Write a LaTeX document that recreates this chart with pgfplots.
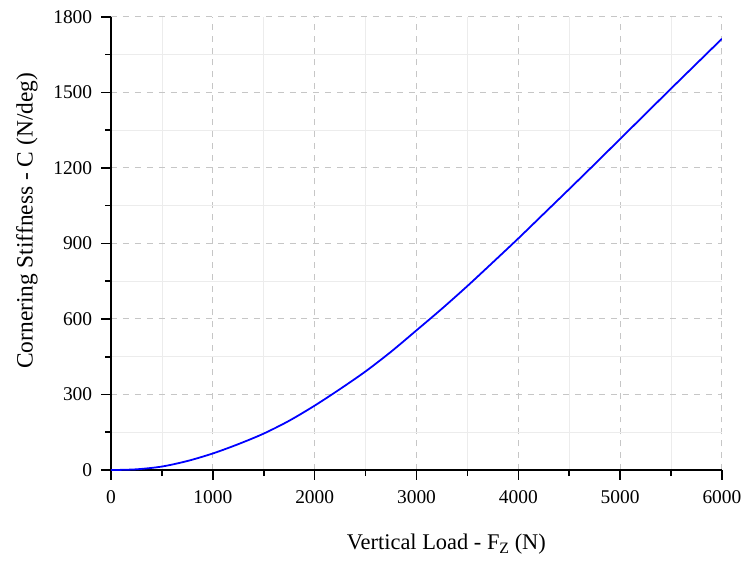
\documentclass[border=0pt]{standalone}
\usepackage{pgfplots}
\pgfplotsset{compat=1.18}
\usepackage{fontspec}
\setmainfont{Liberation Serif}
\begin{document}
\begin{tikzpicture}
\begin{axis}[
  scale only axis,
  width=308pt, height=228.5pt,
  xmin=0, xmax=6000, ymin=0, ymax=1800,
  axis x line*=bottom, axis y line*=left,
  axis line style={line width=0.9pt},
  xtick={0,1000,...,6000}, ytick={0,300,...,1800},
  minor x tick num=1, minor y tick num=1,
  tick align=outside,
  major tick length=5pt, minor tick length=3pt,
  tick style={line width=0.8pt, black},
  grid=both,
  major grid style={dashed, gray!45, line width=0.5pt},
  minor grid style={gray!15, line width=0.4pt},
  /pgf/number format/assume math mode=true,
  xticklabel style={font=\fontsize{9.8}{11}\selectfont, yshift=-2pt},
  yticklabel style={font=\fontsize{9.8}{11}\selectfont, xshift=-1pt},
  scaled ticks=false,
  /pgf/number format/1000 sep={},
  xlabel={Vertical Load - F\raisebox{-0.45ex}{\fontsize{8}{9}\selectfont Z} (N)},
  ylabel={Cornering Stiffness - C (N/deg)},
  xlabel style={font=\fontsize{11.3}{13}\selectfont, at={(ticklabel cs:0.549)}, yshift=-8pt},
  ylabel style={font=\fontsize{11.8}{13}\selectfont, at={(ticklabel cs:0.55)}, yshift=1pt},
]
\addplot[blue, line width=0.9pt, smooth] coordinates {
(0,0) (250,3) (500,14) (750,36) (1000,66) (1250,103) (1500,145)
(1750,196) (2000,256) (2250,322) (2500,392) (2750,470) (3000,555)
(3250,641) (3500,731) (3750,825) (4000,920) (4250,1018) (4500,1116)
(4750,1215) (5000,1315) (5250,1415) (5500,1515) (5750,1614) (6000,1713)
};
\end{axis}
\path (current axis.south west) ++(-56pt,-44pt) coordinate (bbA);
\path (current axis.north east) ++(10pt,8.5pt) coordinate (bbB);
\path[use as bounding box] (bbA) rectangle (bbB);
\end{tikzpicture}
\end{document}
